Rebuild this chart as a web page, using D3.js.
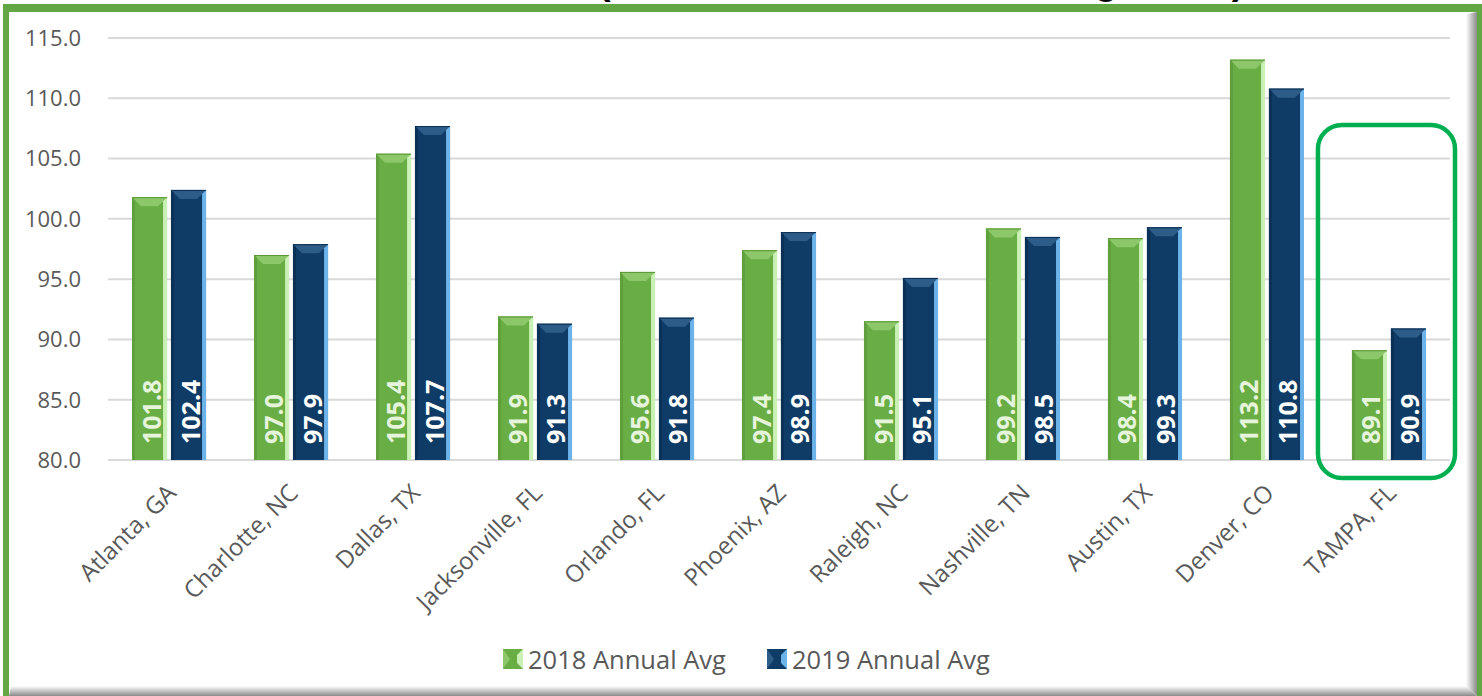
<!DOCTYPE html>
<html>
<head>
<meta charset="utf-8">
<script src="https://cdn.jsdelivr.net/npm/d3@7/dist/d3.min.js"></script>
<style>
  html, body { margin: 0; padding: 0; background: #fff; }
  svg { display: block; }
  text { font-family: 'Open Sans', sans-serif; }
</style>
</head>
<body>
<svg id="chart"></svg>
<script>
const cities = ['Atlanta, GA', 'Charlotte, NC', 'Dallas, TX', 'Jacksonville, FL', 'Orlando, FL',
	'Phoenix, AZ', 'Raleigh, NC', 'Nashville, TN', 'Austin, TX', 'Denver, CO', 'TAMPA, FL'];
const avg2018 = [101.8, 97.0, 105.4, 91.9, 95.6, 97.4, 91.5, 99.2, 98.4, 113.2, 89.1];
const avg2019 = [102.4, 97.9, 107.7, 91.3, 91.8, 98.9, 95.1, 98.5, 99.3, 110.8, 90.9];
const seriesNames = ['2018 Annual Avg', '2019 Annual Avg'];
const yTicks = [80, 85, 90, 95, 100, 105, 110, 115];
const highlightCity = 'TAMPA, FL';
const titleText = '(2018 vs 2019 Annual Average Rate)';

const W = 1482;
const H = 696;
const PLOT = { left: 108, right: 1450, top: 38, bottom: 460 };
const BEVEL = 9;

const styles = [
	{ main: '#69ad45', top: '#8cc76a', left: '#5f9f3d', right: '#c9f1b5', edge: '#5a9838', label: '#e6f4dc' },
	{ main: '#0f3c66', top: '#2d5c88', left: '#0b3157', right: '#6cb3ea', edge: '#0a2f52', label: '#ffffff' }
];

const rows = cities.map((c, i) => ({ city: c, values: [avg2018[i], avg2019[i]] }));

const svg = d3.select('#chart').attr('width', W).attr('height', H);

// title, mostly cropped off the top of the picture
svg.append('text')
	.attr('x', 598).attr('y', -6)
	.style('font-family', "'Liberation Sans', Arial, sans-serif")
	.style('font-weight', 'bold').style('font-size', '38px')
	.attr('fill', '#000')
	.text(titleText);

// green frame with inner bevel shadow
const defs = svg.append('defs');
const shR = defs.append('linearGradient').attr('id', 'shR').attr('x1', 0).attr('x2', 1);
shR.append('stop').attr('offset', 0).attr('stop-color', '#fff');
shR.append('stop').attr('offset', 1).attr('stop-color', '#8a8a8a');
const shB = defs.append('linearGradient').attr('id', 'shB').attr('x1', 0).attr('x2', 0).attr('y1', 0).attr('y2', 1);
shB.append('stop').attr('offset', 0).attr('stop-color', '#fff');
shB.append('stop').attr('offset', 1).attr('stop-color', '#8a8a8a');

svg.append('rect').attr('x', 3).attr('y', 4).attr('width', W - 3).attr('height', H - 4).attr('fill', '#62a744');
svg.append('rect').attr('x', 9).attr('y', 12).attr('width', 1468).attr('height', H - 12).attr('fill', '#fff');
svg.append('path').attr('d', 'M1466,14 L1477,12 L1477,696 L1466,686 Z').attr('fill', 'url(#shR)');
svg.append('path').attr('d', 'M11,686 L1466,686 L1477,696 L9,696 Z').attr('fill', 'url(#shB)');

const y = d3.scaleLinear().domain([80, 115]).range([PLOT.bottom, PLOT.top]);
const x0 = d3.scaleBand().domain(cities).range([PLOT.left, PLOT.right])
	.paddingInner(0.393).paddingOuter(0.1967);
const x1 = d3.scaleBand().domain([0, 1]).range([0, x0.bandwidth()]).paddingInner(0.1);

// gridlines and y axis labels
const yAxis = svg.append('g').attr('class', 'y-axis');
yAxis.selectAll('line').data(yTicks).enter().append('line')
	.attr('x1', PLOT.left).attr('x2', PLOT.right)
	.attr('y1', d => y(d)).attr('y2', d => y(d))
	.attr('stroke', '#d9d9d9').attr('stroke-width', 2);
yAxis.selectAll('text').data(yTicks).enter().append('text')
	.attr('x', 81).attr('y', d => y(d) + 2)
	.attr('text-anchor', 'end').attr('dominant-baseline', 'middle')
	.style('font-size', '22px').attr('fill', '#595959')
	.text(d3.format('.1f'));

// bars with a bevel look
const groups = svg.selectAll('.city').data(rows).enter().append('g')
	.attr('class', 'city')
	.attr('transform', d => `translate(${x0(d.city)},0)`);

groups.each((d, i, n) => {
	const g = d3.select(n[i]);
	d.values.forEach((v, s) => {
		const st = styles[s];
		const bx = x1(s);
		const bw = x1.bandwidth();
		const top = y(v);
		const bot = y(80);
		const bar = g.append('g');
		bar.append('rect').attr('x', bx).attr('y', top).attr('width', bw).attr('height', bot - top).attr('fill', st.main);
		bar.append('path')
			.attr('d', `M${bx},${top} L${bx + bw},${top} L${bx + bw - BEVEL},${top + BEVEL} L${bx + BEVEL},${top + BEVEL} Z`)
			.attr('fill', st.top);
		bar.append('path')
			.attr('d', `M${bx},${top} L${bx + 3},${top + 3} L${bx + 3},${bot} L${bx},${bot} Z`)
			.attr('fill', st.left);
		bar.append('path')
			.attr('d', `M${bx + bw},${top} L${bx + bw - 4},${top + 4} L${bx + bw - 4},${bot} L${bx + bw},${bot} Z`)
			.attr('fill', st.right);
		bar.append('line')
			.attr('x1', bx).attr('x2', bx + bw).attr('y1', top + 0.5).attr('y2', top + 0.5)
			.attr('stroke', st.edge).attr('stroke-width', 1);
		bar.append('text')
			.attr('transform', `translate(${bx + bw / 2 + 1},${bot - 16}) rotate(-90)`)
			.attr('dominant-baseline', 'central')
			.style('font-size', '25px').style('font-weight', 'bold')
			.attr('fill', st.label)
			.text(d3.format('.1f')(v));
	});
});

// x axis labels
svg.append('g').selectAll('text').data(cities).enter().append('text')
	.attr('transform', d => `translate(${x0(d) + x0.bandwidth() / 2 + 4},${PLOT.bottom + 30}) rotate(-45)`)
	.attr('text-anchor', 'end')
	.attr('dominant-baseline', 'middle')
	.style('font-size', '24px').attr('fill', '#595959')
	.text(d => d);

// highlight box round Tampa
const hx = x0(highlightCity);
svg.append('rect')
	.attr('x', hx - 34).attr('y', 125)
	.attr('width', x0.bandwidth() + 63).attr('height', 353)
	.attr('rx', 24).attr('ry', 24)
	.attr('fill', 'none').attr('stroke', '#00b050').attr('stroke-width', 4.5);

// legend
const legendX = [503, 767];
const legend = svg.append('g').selectAll('g').data(seriesNames).enter().append('g')
	.attr('transform', (d, i) => `translate(${legendX[i]},649)`);
legend.append('rect').attr('width', 20).attr('height', 20).attr('fill', (d, i) => styles[i].main);
legend.append('path').attr('d', 'M0,0 L7,10 L0,20 Z').attr('fill', (d, i) => styles[i].top);
legend.append('path').attr('d', 'M20,0 L14,6 L14,14 L20,20 Z').attr('fill', (d, i) => styles[i].right);
legend.append('text')
	.attr('x', 25).attr('y', 10)
	.attr('dominant-baseline', 'central')
	.style('font-size', '25.5px').attr('fill', '#595959')
	.text(d => d);
</script>
</body>
</html>
